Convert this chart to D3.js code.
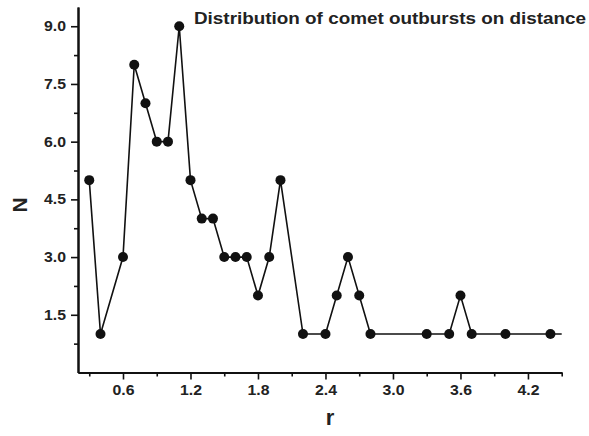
<!DOCTYPE html>
<html><head><meta charset="utf-8">
<script src="https://cdn.jsdelivr.net/npm/d3@7"></script>
<style>body{margin:0;background:#fff}svg{display:block}</style>
</head><body>
<svg id="c" width="589" height="436"></svg>
<script>
const title = "Distribution of comet outbursts on distance";
const rValues = [0.3,0.4,0.6,0.7,0.8,0.9,1.0,1.1,1.2,1.3,1.4,1.5,1.6,1.7,1.8,1.9,2.0,2.2,2.4,2.5,2.6,2.7,2.8,3.3,3.5,3.6,3.7,4.0,4.4,4.6];
const nValues = [5,1,3,8,7,6,6,9,5,4,4,3,3,3,2,3,5,1,1,2,3,2,1,1,1,2,1,1,1,1];
const xTicks = [0.6,1.2,1.8,2.4,3.0,3.6,4.2];
const xMinor = [0.3,0.9,1.5,2.1,2.7,3.3,3.9,4.5];
const yTicks = [1.5,3.0,4.5,6.0,7.5,9.0];
const yMinor = [0.75,2.25,3.75,5.25,6.75,8.25];

const svg = d3.select("#c");
const L = 78, R = 561.7, T = 7, B = 372.5;
const x = d3.scaleLinear().domain([0.2,4.5]).range([L,R]);
const y = d3.scaleLinear().domain([0,9.5]).range([B,T]);
const font = "'Liberation Sans', Arial, sans-serif";
const data = rValues.map((r,i)=>({r, n:nValues[i]}));

svg.append("clipPath").attr("id","clip").append("rect")
  .attr("x",L).attr("y",0).attr("width",R-L).attr("height",B);

const g = svg.append("g").attr("clip-path","url(#clip)");
g.append("path").datum(data)
  .attr("fill","none").attr("stroke","#111").attr("stroke-width",1.6)
  .attr("d", d3.line().x(d=>x(d.r)).y(d=>y(d.n)));
g.selectAll("circle").data(data).join("circle")
  .attr("cx",d=>x(d.r)).attr("cy",d=>y(d.n)).attr("r",5).attr("fill","#111");

// axes
const xAxis = svg.append("g").attr("transform",`translate(0,${B})`)
  .call(d3.axisBottom(x).tickValues(xTicks).tickFormat(d3.format(".1f")).tickSize(7).tickSizeOuter(0).tickPadding(6));
const xAxisMinor = svg.append("g").attr("transform",`translate(0,${B})`)
  .call(d3.axisBottom(x).tickValues(xMinor).tickFormat("").tickSize(4).tickSizeOuter(0));
const yAxis = svg.append("g").attr("transform",`translate(${L},0)`)
  .call(d3.axisLeft(y).tickValues(yTicks).tickFormat(d3.format(".1f")).tickSize(7).tickSizeOuter(0).tickPadding(5));
const yAxisMinor = svg.append("g").attr("transform",`translate(${L},0)`)
  .call(d3.axisLeft(y).tickValues(yMinor).tickFormat("").tickSize(4).tickSizeOuter(0));
[xAxis,xAxisMinor,yAxis,yAxisMinor].forEach(a=>{
  a.select(".domain").attr("stroke","#111").attr("stroke-width",2);
  a.selectAll(".tick line").attr("stroke","#111").attr("stroke-width",1.6);
  a.selectAll("text").attr("font-family",font).attr("font-size",14).attr("font-weight","bold").attr("fill","#222")
    .attr("textLength",22).attr("lengthAdjust","spacingAndGlyphs");
});

svg.append("text").attr("x",194).attr("y",23.5).attr("font-family",font)
  .attr("font-size",16.5).attr("font-weight","bold").attr("fill","#222")
  .attr("textLength",392).attr("lengthAdjust","spacingAndGlyphs").text(title);
svg.append("text").attr("transform","translate(27,205) rotate(-90)").attr("text-anchor","middle")
  .attr("font-family",font).attr("font-size",21).attr("font-weight","bold").attr("fill","#222").text("N");
svg.append("text").attr("x",330).attr("y",425).attr("text-anchor","middle")
  .attr("font-family",font).attr("font-size",22).attr("font-weight","bold").attr("fill","#222").text("r");
</script>
</body></html>
